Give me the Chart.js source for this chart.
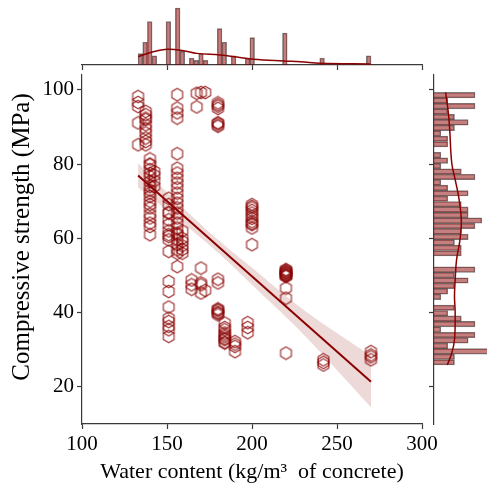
<!DOCTYPE html>
<html>
<head>
<meta charset="utf-8">
<script src="https://cdn.jsdelivr.net/npm/chart.js@4.4.0/dist/chart.umd.min.js"></script>
<style>
  html, body { margin: 0; padding: 0; background: #fff; }
  #wrap { position: relative; width: 487px; height: 494px; }
  #wrap canvas { position: absolute; left: 0; top: 0; }
</style>
</head>
<body>
<div id="wrap">
  <canvas id="topHist" width="487" height="494"></canvas>
  <canvas id="rightHist" width="487" height="494"></canvas>
  <canvas id="joint" width="487" height="494"></canvas>
</div>
<script>
// water content of each mix (kg/m3) and the strengths measured at that water content (MPa)
const mixWater = [133, 137.5, 140, 142.5, 151, 156, 159, 164.5, 167.5, 170, 172.5, 180, 184, 190, 197.5, 200, 220, 242, 270];
const strengthByMix = [
  [98.2, 96.6, 95.5, 91.1, 85.2],
  [94.2, 93.3, 92.4, 92.0, 90.6, 88.4, 87.0, 86.1, 85.2, 89.5],
  [81.4, 80.0, 79.8, 78.5, 77.5, 76.7, 75.3, 74.0, 73.0, 72.2, 71.3, 70.0, 69.1, 68.2, 66.5, 65.5, 64.1, 63.2, 61.0],
  [78.0, 77.0, 75.5, 74.0],
  [70.8, 69.1, 66.8, 65.0, 63.7, 61.0, 60.5, 59.6, 56.5, 48.4, 45.7, 41.5, 38.5, 37.6, 36.3, 35.4, 33.6, 67.0, 62.0],
  [98.7, 95.1, 93.8, 92.4, 82.8, 78.9, 77.6, 76.2, 74.9, 73.6, 72.2, 70.8, 69.5, 68.2, 66.8, 65.5, 64.1, 62.8, 61.4, 61.0, 59.6, 58.3, 56.9, 56.0, 52.4],
  [59.2, 56.0, 58.0, 57.0, 60.0, 62.0],
  [48.8, 47.5, 46.3],
  [99.1, 95.4],
  [99.3, 52.0, 47.5, 45.3, 48.0],
  [99.3, 46.0],
  [96.5, 95.6, 91.1, 90.2, 49.0, 40.8, 39.4, 41.0, 40.0, 90.5, 96.0, 39.8, 40.5, 48.0, 91.0, 95.0],
  [37.2, 35.4, 34.0, 32.7, 31.8, 33.0, 34.5, 36.0, 32.0, 33.5],
  [32.2, 30.9, 29.5, 31.5],
  [37.3, 34.6, 36.0],
  [69.1, 68.2, 67.5, 66.8, 66.0, 65.4, 64.5, 63.7, 62.8, 58.3, 68.6, 64.0],
  [51.5, 50.6, 49.7, 51.0, 50.2, 51.2, 50.8, 46.6, 43.9, 29.1, 50.0, 51.5, 49.9, 50.4],
  [27.3, 25.9, 26.6],
  [29.5, 28.1, 27.3, 28.6]
];

// regression fit and its confidence band
const regX = [133, 270];
const regY = [76.9, 21.4];
const bandX = [133, 150, 165, 180, 200, 228, 250, 270];
const bandUpper = [80.2, 72.4, 65.8, 59.6, 52.1, 41.6, 34.5, 28.4];
const bandLower = [73.7, 67.6, 62.0, 56.2, 47.5, 35.2, 24.5, 14.5];

// top marginal: 50 bins of water content
const xBinStart = 133, xBinWidth = 2.74;
const xCounts = [5, 10, 19, 4, 0, 0, 19, 0, 25, 6, 0, 3, 2, 5, 2, 0, 0, 16, 10, 0,
                 4, 0, 0, 3, 12, 0, 0, 0, 0, 0, 0, 14, 0, 0, 0, 0, 0, 0, 0, 3,
                 0, 0, 0, 0, 0, 0, 0, 0, 0, 4];
const xKdeX = [133.1, 141.9, 150.5, 159.6, 167.5, 181.2, 191.1, 200.8, 218.4, 228.5, 240.2, 269.7];
const xKdeY = [3.65, 5.85, 6.9, 6.3, 5.1, 4.4, 3.5, 2.5, 1.75, 1.46, 0.73, 0.44];

// right marginal: 50 bins of strength, from the lowest bin up
const yBinStart = 25.9, yBinWidth = 1.468;
const yCounts = [3, 3, 8, 2, 5, 6, 1, 6, 4, 2, 3, 0, 1, 2, 3, 5, 3, 6, 0, 0,
                 4, 4, 3, 5, 4, 6, 7, 5, 5, 4, 2, 5, 2, 1, 6, 4, 1, 2, 1, 0,
                 2, 2, 1, 3, 5, 3, 2, 6, 2, 6];
const yKdeY = [25.9, 29.1, 32.7, 39.9, 44.3, 48.8, 54.2, 59.6, 65.0, 71.3, 75.8, 80.3, 89.3, 93.8, 99.3];
const yKdeX = [1.95, 2.6, 3.0, 3.1, 3.0, 3.1, 3.3, 3.8, 4.0, 3.6, 3.1, 2.6, 2.3, 2.1, 1.7];

const xTicks = [100, 150, 200, 250, 300];
const yTicks = [20, 40, 60, 80, 100];

const darkRed = '#8b0000';
const barFill = 'rgba(139,0,0,0.5)';
const barEdge = 'rgba(40,40,40,0.6)';
const axisColor = '#3a3a3a';

Chart.defaults.font.family = "'Liberation Serif', 'Times New Roman', serif";
Chart.defaults.color = '#000';

// hollow hexagon marker
const hex = document.createElement('canvas');
hex.width = 15; hex.height = 15;
const hctx = hex.getContext('2d');
hctx.strokeStyle = 'rgba(139,0,0,0.78)';
hctx.lineWidth = 1.2;
hctx.beginPath();
for (let i = 0; i < 6; i++) {
  const a = -Math.PI / 2 + i * Math.PI / 3;
  const px = 7.5 + 6.2 * Math.cos(a), py = 7.5 + 6.2 * Math.sin(a);
  if (i === 0) hctx.moveTo(px, py); else hctx.lineTo(px, py);
}
hctx.closePath();
hctx.stroke();

const points = [];
mixWater.forEach((w, i) => strengthByMix[i].forEach(s => points.push({x: w, y: s})));

const axisGrid = { drawOnChartArea: false, drawTicks: true, tickLength: 5, tickColor: axisColor, tickWidth: 1.2 };
const axisBorder = { display: true, color: axisColor, width: 1.2 };
const noPlugins = { legend: { display: false }, tooltip: { enabled: false } };

new Chart(document.getElementById('joint'), {
  type: 'scatter',
  data: {
    datasets: [
      {
        data: points,
        pointStyle: hex,
        pointRadius: 6,
        order: 3
      },
      {
        type: 'line',
        data: bandX.map((x, i) => ({x: x, y: bandLower[i]})),
        borderColor: 'transparent',
        pointRadius: 0,
        tension: 0.4,
        fill: false,
        order: 2
      },
      {
        type: 'line',
        data: bandX.map((x, i) => ({x: x, y: bandUpper[i]})),
        borderColor: 'transparent',
        backgroundColor: 'rgba(139,0,0,0.15)',
        pointRadius: 0,
        tension: 0.4,
        fill: '-1',
        order: 2
      },
      {
        type: 'line',
        data: regX.map((x, i) => ({x: x, y: regY[i]})),
        borderColor: darkRed,
        borderWidth: 2,
        pointRadius: 0,
        fill: false,
        order: 1
      }
    ]
  },
  options: {
    responsive: false,
    animation: false,
    layout: { padding: { left: 0, right: 65, top: 75, bottom: 0 } },
    plugins: noPlugins,
    scales: {
      x: {
        type: 'linear',
        min: 100,
        max: 300,
        afterBuildTicks: s => { s.ticks = xTicks.map(v => ({value: v})); },
        afterFit: s => { s.height = 70; },
        ticks: { font: { size: 21 }, padding: 3, maxRotation: 0 },
        grid: axisGrid,
        border: axisBorder,
        title: {
          display: true,
          text: 'Water content (kg/m³  of concrete)',
          font: { size: 22 },
          padding: { top: 0, bottom: 9 }
        }
      },
      y: {
        type: 'linear',
        min: 10,
        max: 104,
        afterBuildTicks: s => { s.ticks = yTicks.map(v => ({value: v})); },
        afterFit: s => { s.width = 82; },
        ticks: { font: { size: 21 }, padding: 3 },
        grid: axisGrid,
        border: axisBorder,
        title: {
          display: true,
          // leading spaces lift the label a little above the axis centre
          text: '    Compressive strength (MPa)',
          font: { size: 25 },
          padding: { top: 7, bottom: 0 }
        }
      }
    }
  }
});

new Chart(document.getElementById('topHist'), {
  type: 'bar',
  data: {
    datasets: [
      {
        type: 'line',
        data: xKdeX.map((x, i) => ({x: x, y: xKdeY[i]})),
        borderColor: darkRed,
        borderWidth: 1.5,
        pointRadius: 0,
        tension: 0.4,
        order: 0
      },
      {
        data: xCounts.map((c, i) => ({x: xBinStart + xBinWidth * (i + 0.5), y: c})),
        backgroundColor: barFill,
        borderColor: barEdge,
        borderWidth: 0.8,
        barPercentage: 1,
        categoryPercentage: 1,
        order: 1
      }
    ]
  },
  options: {
    responsive: false,
    animation: false,
    layout: { padding: { left: 82, right: 65, top: 3, bottom: 0 } },
    plugins: noPlugins,
    scales: {
      x: {
        type: 'linear',
        min: 100,
        max: 300,
        offset: false,
        afterBuildTicks: s => { s.ticks = xTicks.map(v => ({value: v})); },
        afterFit: s => { s.height = 429; },
        ticks: { display: false },
        grid: Object.assign({ offset: false }, axisGrid),
        border: axisBorder
      },
      y: { display: false, min: 0, max: 27.2 }
    }
  }
});

new Chart(document.getElementById('rightHist'), {
  type: 'bar',
  data: {
    datasets: [
      {
        type: 'line',
        data: yKdeY.map((y, i) => ({x: yKdeX[i], y: y})),
        borderColor: darkRed,
        borderWidth: 1.5,
        pointRadius: 0,
        tension: 0.4,
        order: 0
      },
      {
        data: yCounts.map((c, i) => ({x: c, y: yBinStart + yBinWidth * (i + 0.5)})),
        backgroundColor: barFill,
        borderColor: barEdge,
        borderWidth: 0.8,
        barPercentage: 1,
        categoryPercentage: 1,
        order: 1
      }
    ]
  },
  options: {
    indexAxis: 'y',
    responsive: false,
    animation: false,
    layout: { padding: { left: 0, right: 0, top: 75, bottom: 70 } },
    plugins: noPlugins,
    scales: {
      y: {
        type: 'linear',
        position: 'left',
        min: 10,
        max: 104,
        offset: false,
        afterBuildTicks: s => { s.ticks = yTicks.map(v => ({value: v})); },
        afterFit: s => { s.width = 434; },
        ticks: { display: false },
        grid: Object.assign({ offset: false }, axisGrid),
        border: axisBorder
      },
      x: { display: false, min: 0, max: 7.76 }
    }
  }
});
</script>
</body>
</html>
